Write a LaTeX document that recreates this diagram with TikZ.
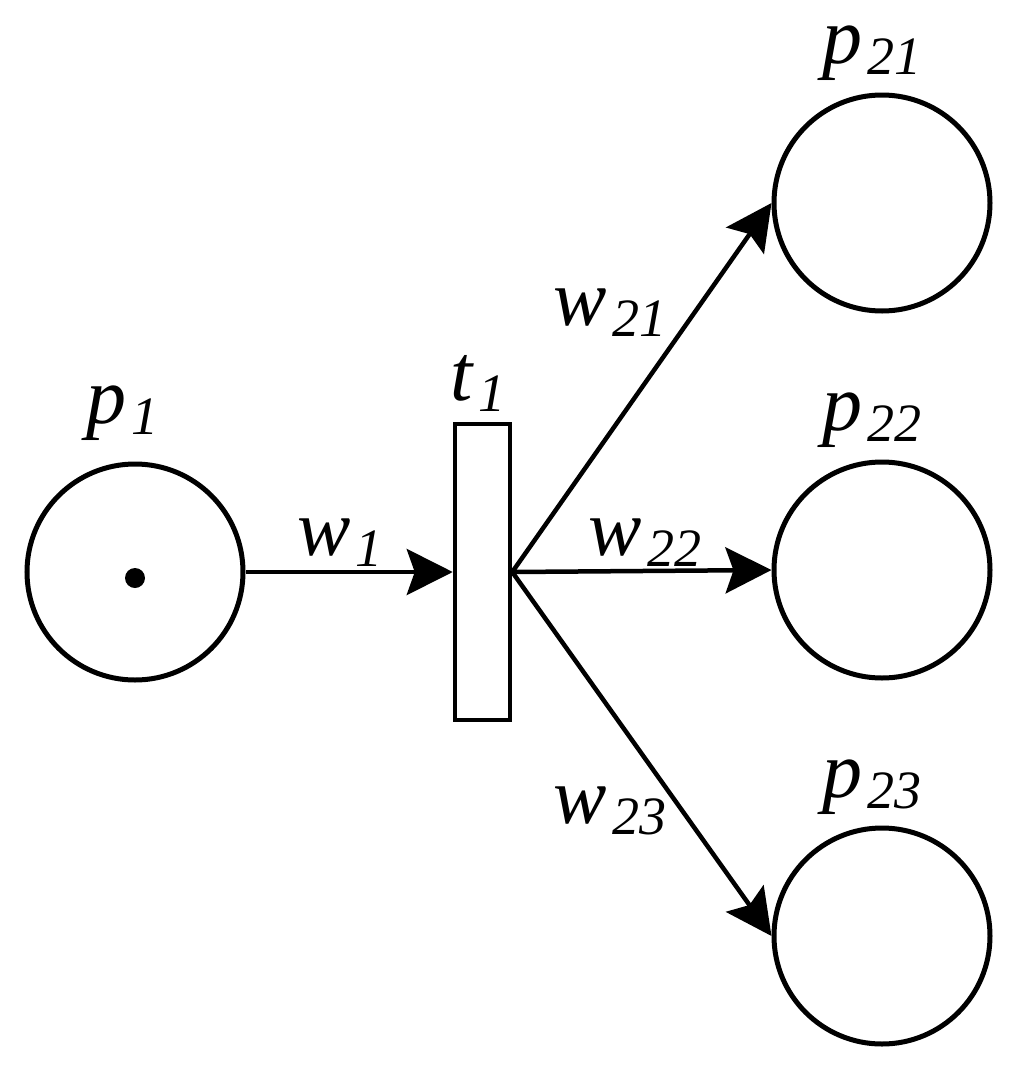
\documentclass[tikz,border=0pt]{standalone}
\usepackage{fontspec}
\newfontfamily\tmsit{Liberation Serif Italic}
\usetikzlibrary{arrows.meta}
\newcommand{\lblsub}[2]{{\tmsit\fontsize{80}{84}\selectfont #1\hspace{5pt}\raisebox{-11pt}{\fontsize{54}{58}\selectfont #2}}}
\tikzset{
  place/.style={draw, circle, minimum size=216pt, inner sep=0pt, line width=5pt},
  trans/.style={draw, rectangle, minimum width=55pt, minimum height=296pt, inner sep=0pt, line width=4.5pt},
  arc/.style={line width=4.5pt, -{Stealth[length=46pt, width=46pt, inset=8pt]}},
  lbl/.style={inner sep=0pt, anchor=base}
}
\begin{document}
\begin{tikzpicture}[x=1pt,y=-1pt]
\useasboundingbox (0,0) rectangle (1024,1082);
\node[place] (p1) at (135,572) {};
\node[place] (p21) at (882,203) {};
\node[place] (p22) at (882,570) {};
\node[place] (p23) at (882,936) {};
\node[trans] (t1) at (482.5,572) {};
\fill (p1.center) ++(0,6) circle (10pt) coordinate (tok);
\coordinate (out) at (t1.east);
\draw[arc] (p1.east) -- (t1.west);
\draw[arc] (out) -- (p21.west);
\draw[arc] (out) -- (p22.west);
\draw[arc] (out) -- (p23.west);
\node[lbl] (lp1) at (122,423) {\lblsub{p}{1}};
\node[lbl] (lt1) at (478,400) {\lblsub{t}{1}};
\node[lbl] (lp21) at (872,63) {\lblsub{p}{21}};
\node[lbl] (lp22) at (872,430) {\lblsub{p}{22}};
\node[lbl] (lp23) at (872,797) {\lblsub{p}{23}};
\node[lbl] (lw1) at (340,555) {\lblsub{w}{1}};
\node[lbl] (lw21) at (610,325) {\lblsub{w}{21}};
\node[lbl] (lw22) at (645,555) {\lblsub{w}{22}};
\node[lbl] (lw23) at (610,823) {\lblsub{w}{23}};
\end{tikzpicture}
\end{document}
